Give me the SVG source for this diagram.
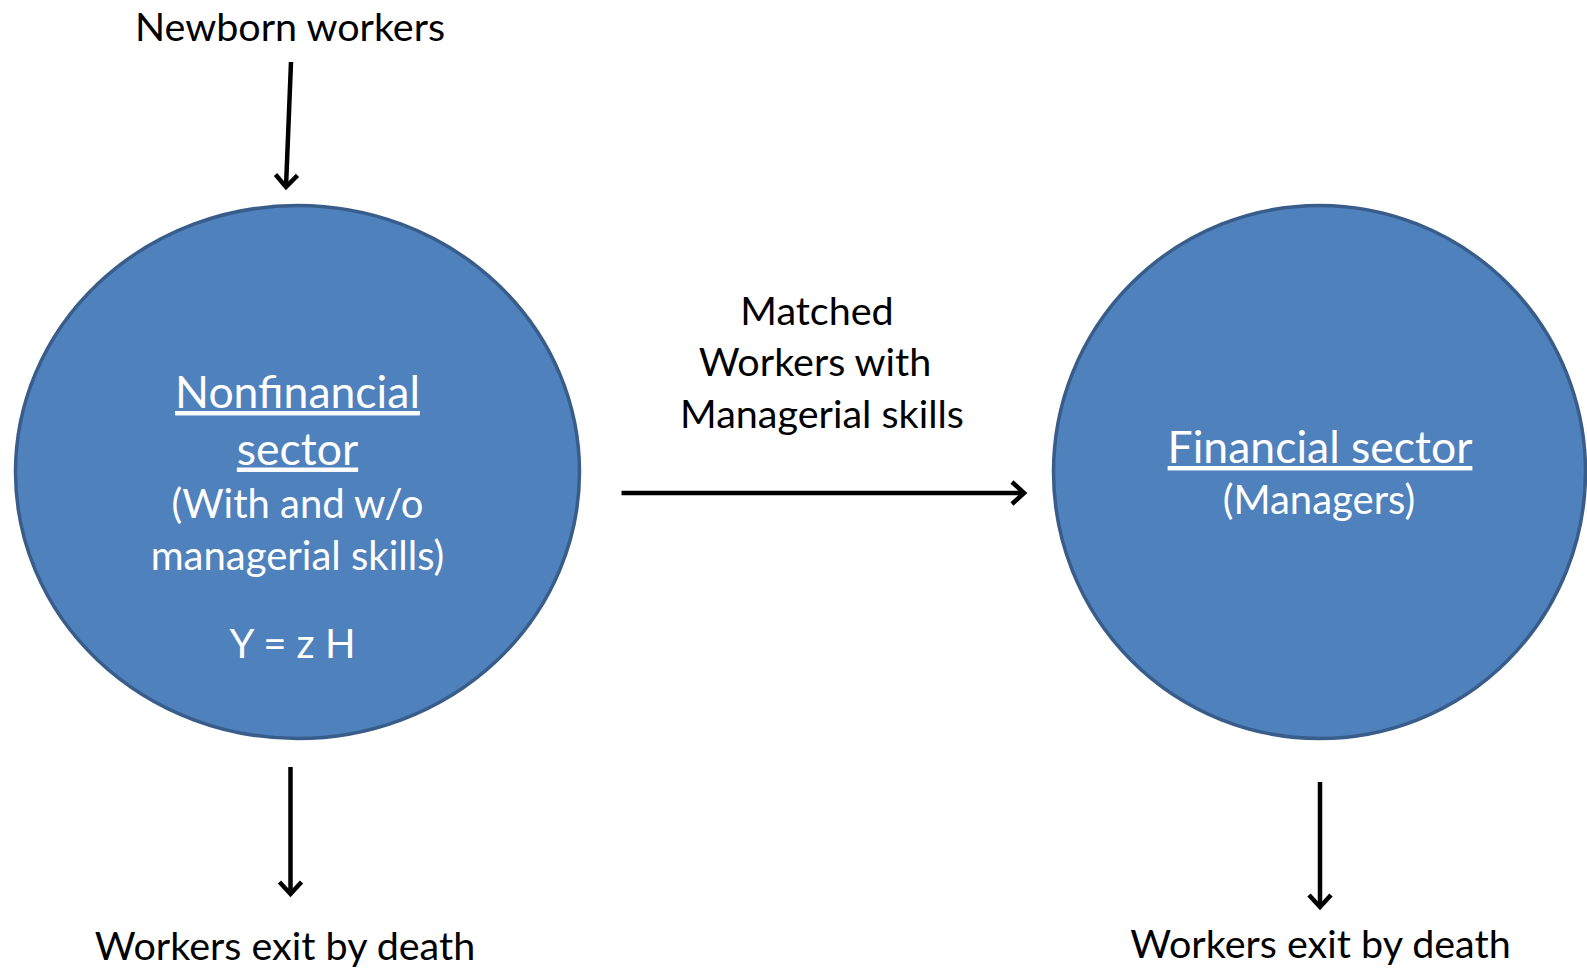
<svg xmlns="http://www.w3.org/2000/svg" width="1587" height="969" viewBox="0 0 1587 969">
  <style>
    .sector { fill: #4F81BD; stroke: #385D8A; stroke-width: 3.5; }
    .title { font-family: Lato, "Liberation Sans", sans-serif; font-size: 44.5px; fill: #FFFFFF; text-anchor: middle; text-decoration: underline; }
    .sub { font-family: Lato, "Liberation Sans", sans-serif; font-size: 40px; fill: #FFFFFF; text-anchor: middle; }
    .label { font-family: Lato, "Liberation Sans", sans-serif; font-size: 39.5px; fill: #000000; text-anchor: middle; }
    .flow { stroke: #000000; stroke-width: 4.5; fill: none; marker-end: url(#head); }
  </style>
  <defs>
    <marker id="head" markerUnits="userSpaceOnUse" viewBox="0 0 28 28" markerWidth="28" markerHeight="28" refX="14" refY="14" orient="auto">
      <path d="M2,3 L14,14 L2,25" fill="none" stroke="#000000" stroke-width="4.5" stroke-linejoin="miter"/>
    </marker>
  </defs>

  <!-- Nonfinancial sector -->
  <g id="nonfinancial">
    <ellipse class="sector" cx="297.5" cy="472" rx="282" ry="266.5"/>
    <text class="title" x="297.5" y="408">Nonfinancial</text>
    <text class="title" x="297.5" y="464.5">sector</text>
    <text class="sub" x="297.5" y="518">(With and w/o</text>
    <text class="sub" x="297.5" y="570">managerial skills)</text>
    <text class="sub" x="292.5" y="658">Y = z H</text>
  </g>

  <!-- Financial sector -->
  <g id="financial">
    <ellipse class="sector" cx="1319.5" cy="472" rx="266" ry="266.5"/>
    <text class="title" x="1320" y="463">Financial sector</text>
    <text class="sub" x="1319" y="514">(Managers)</text>
  </g>

  <!-- Free-standing labels -->
  <g id="newborn">
    <text class="label" x="290" y="41">Newborn workers</text>
  </g>
  <g id="matched">
    <text class="label" x="817" y="325">Matched</text>
    <text class="label" x="815" y="376">Workers with</text>
    <text class="label" x="822" y="428">Managerial skills</text>
  </g>
  <g id="exit-left">
    <text class="label" x="285" y="960">Workers exit by death</text>
  </g>
  <g id="exit-right">
    <text class="label" x="1320.5" y="958">Workers exit by death</text>
  </g>

  <!-- Flows -->
  <g id="connectors">
    <line class="flow" x1="291" y1="62" x2="286" y2="187"/>
    <line class="flow" x1="621.5" y1="493" x2="1024" y2="493"/>
    <line class="flow" x1="290.5" y1="767" x2="290.5" y2="894"/>
    <line class="flow" x1="1320" y1="782" x2="1320" y2="907"/>
  </g>
</svg>
